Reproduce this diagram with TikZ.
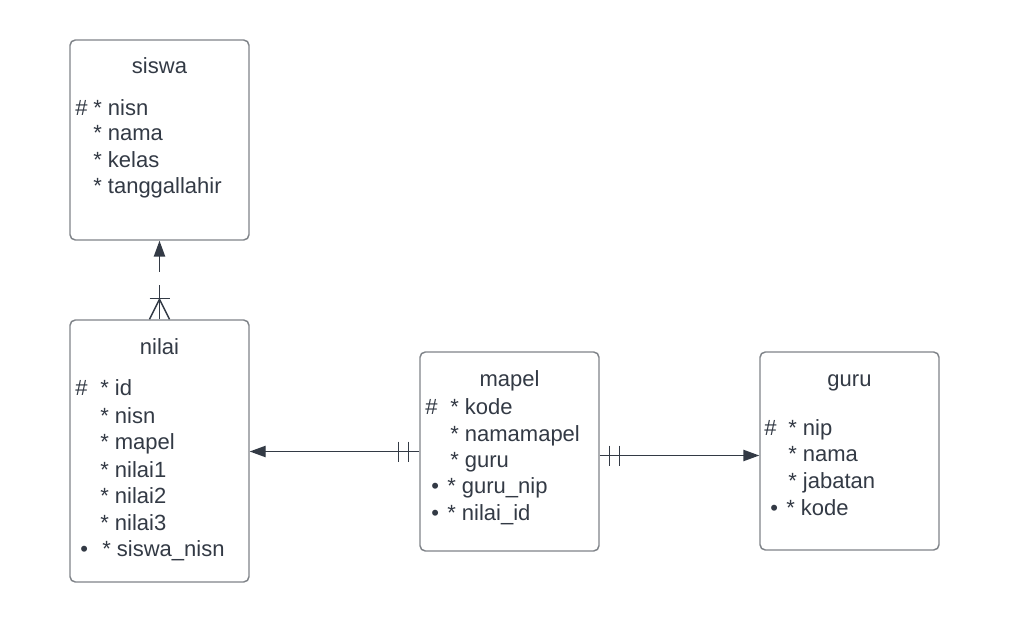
\documentclass[tikz,border=0pt]{standalone}
\usepackage{fontspec}
\setmainfont{Liberation Sans}
\usetikzlibrary{arrows.meta,calc}
\definecolor{txt}{HTML}{333A45}
\definecolor{bord}{HTML}{808489}
\definecolor{ln}{HTML}{333A45}
\tikzset{
  entity/.style={draw=bord, line width=1.1pt, rounded corners=4pt, fill=white, inner sep=0pt, minimum width=134.25pt},
  lbl/.style={anchor=base west, inner sep=0pt, text=txt, font=\fontsize{16.5}{20}\selectfont},
  ttl/.style={anchor=base, inner sep=0pt, text=txt, font=\fontsize{16.5}{20}\selectfont},
  conn/.style={draw=ln, line width=1.1pt},
  tip/.style={-{Triangle[length=12pt,width=8.5pt]}}
}
\begin{document}
\begin{tikzpicture}[x=0.75pt,y=-0.75pt]
\useasboundingbox (0,0) rectangle (1010,623);
% boxes
\node[entity, minimum height=150pt] (siswa) at (159.5,140) {};
\node[entity, minimum height=196.5pt] (nilai) at (159.5,451) {};
\node[entity, minimum height=149.25pt] (mapel) at (509.5,451.5) {};
\node[entity, minimum height=148.5pt] (guru) at (849.5,451) {};
% siswa text
\node[ttl] (siswaT) at (159.5,74) {siswa};
\node[lbl] (s0h) at (75,116) {\#};
\node[lbl] (s1) at (93,116) {* nisn};
\node[lbl] (s2) at (93,141) {* nama};
\node[lbl] (s3) at (93,167.5) {* kelas};
\node[lbl] (s4) at (93,194) {* tanggallahir};
% nilai text
\node[ttl] (nilaiT) at (159.5,355) {nilai};
\node[lbl] (n0h) at (75,396) {\#};
\node[lbl] (n1) at (100,396) {* id};
\node[lbl] (n2) at (100,423) {* nisn};
\node[lbl] (n3) at (100,450) {* mapel};
\node[lbl] (n4) at (100,477) {* nilai1};
\node[lbl] (n5) at (100,503) {* nilai2};
\node[lbl] (n6) at (100,530) {* nilai3};
\node[lbl] (n7b) at (80,556) {•};
\node[lbl] (n7) at (102,556) {* siswa\_nisn};
% mapel text
\node[ttl] (mapelT) at (509.5,386.5) {mapel};
\node[lbl] (m0h) at (425,414) {\#};
\node[lbl] (m1) at (450,414) {* kode};
\node[lbl] (m2) at (450,441) {* namamapel};
\node[lbl] (m3) at (450,467) {* guru};
\node[lbl] (m4b) at (431,493) {•};
\node[lbl] (m4) at (447,493) {* guru\_nip};
\node[lbl] (m5b) at (431,520) {•};
\node[lbl] (m5) at (447,520) {* nilai\_id};
% guru text
\node[ttl] (guruT) at (849.5,386.5) {guru};
\node[lbl] (g0h) at (764,435.5) {\#};
\node[lbl] (g1) at (788,435.5) {* nip};
\node[lbl] (g2) at (788,461.5) {* nama};
\node[lbl] (g3) at (788,488) {* jabatan};
\node[lbl] (g4b) at (770,515) {•};
\node[lbl] (g4) at (786,515) {* kode};
% connector siswa - nilai
\coordinate (c1a) at ($(siswa.south)+(0,31)$);
\coordinate (c1b) at ($(nilai.north)+(0,-34)$);
\draw[conn, tip] (c1a) -- (siswa.south);
\draw[conn] (nilai.north) -- (c1b);
\draw[conn] ($(nilai.north)+(-10,-21)$) -- ($(nilai.north)+(10,-21)$);
\draw[conn] ($(nilai.north)+(-10,0)$) -- ($(nilai.north)+(0,-20)$) -- ($(nilai.north)+(10,0)$);
% connector mapel - nilai
\draw[conn, tip] (mapel.west) -- (mapel.west -| nilai.east);
\draw[conn] ($(mapel.west)+(-21,-10)$) -- ($(mapel.west)+(-21,10)$);
\draw[conn] ($(mapel.west)+(-11,-10)$) -- ($(mapel.west)+(-11,10)$);
% connector mapel - guru
\coordinate (c3a) at ($(mapel.east)+(0,4)$);
\draw[conn, tip] (c3a) -- (c3a -| guru.west);
\draw[conn] ($(c3a)+(10,-10)$) -- ($(c3a)+(10,10)$);
\draw[conn] ($(c3a)+(20,-10)$) -- ($(c3a)+(20,10)$);
\end{tikzpicture}
\end{document}
